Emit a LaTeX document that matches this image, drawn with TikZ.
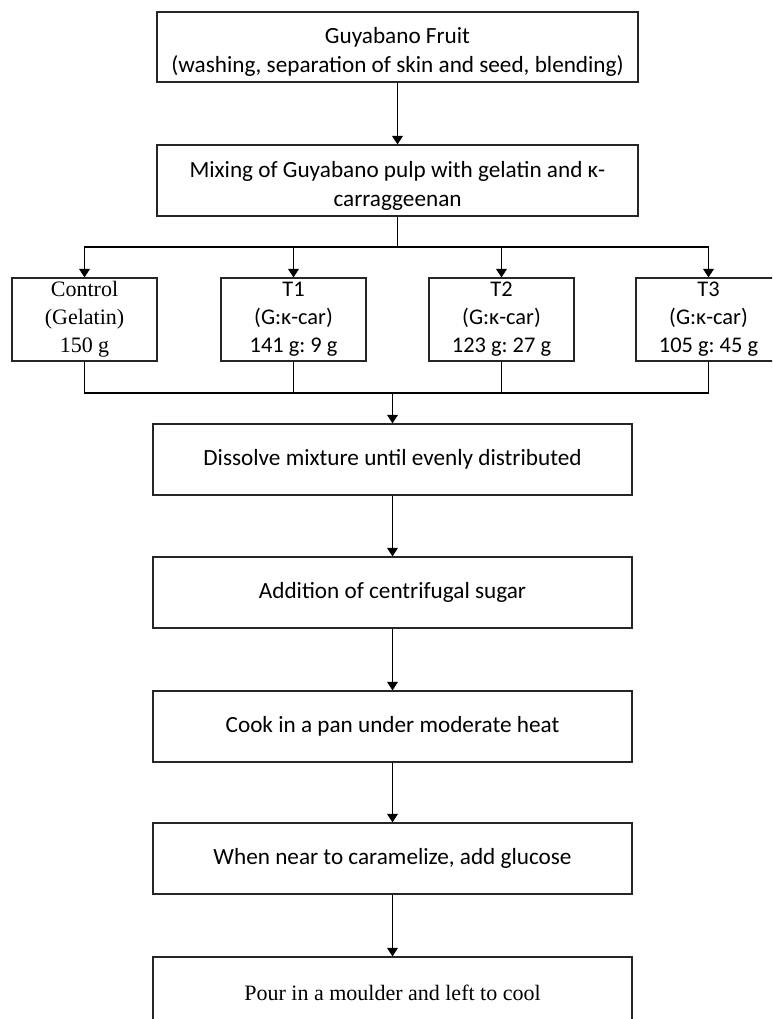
\documentclass[tikz,border=0pt]{standalone}
\usepackage{fontspec}
\setmainfont{Carlito}
\newfontfamily\serifcam{Liberation Serif}
\usetikzlibrary{arrows.meta}
\newcommand{\lowstrut}{\rule{0pt}{20pt}}
\tikzset{
  box/.style={draw=black!85, line width=0.8pt, inner sep=0pt, align=center, fill=white},
  wide/.style={box, minimum width=481*0.75pt, minimum height=70*0.75pt, font=\fontsize{17.4}{21.75}\selectfont},
  treat/.style={box, minimum width=145*0.75pt, minimum height=83*0.75pt, font=\fontsize{16.8}{21}\selectfont},
  lower/.style={box, minimum width=479*0.75pt, minimum height=71*0.75pt, font=\fontsize{17.4}{21.75}\selectfont},
  conn/.style={line width=1.3pt},
  arr/.style={conn, -{Triangle[width=8pt,length=6.5pt]}}
}
\begin{document}
\frenchspacing
\begin{tikzpicture}[x=0.75pt,y=-0.75pt]
\useasboundingbox (0,0) rectangle (772,1019);
\clip (0,0) rectangle (772,1019);
\fill[white] (0,0) rectangle (772,1019);
% nodes
\node[wide] (top) at (397.5,47) {\lowstrut Guyabano Fruit\\(washing, separation of skin and seed, blending)};
\node[wide, minimum height=71*0.75pt] (mix) at (397.5,180.5) {\lowstrut Mixing of Guyabano pulp with gelatin and κ-\\carraggeenan};
\node[treat, font=\serifcam\fontsize{16.5}{21}\selectfont] (ctrl) at (84.5,319.5) {Control\\(Gelatin)\\150 g};
\node[treat] (t1) at (293.5,319.5) {T1\\(G:κ-car)\\141 g: 9 g};
\node[treat] (t2) at (501.5,319.5) {T2\\(G:κ-car)\\123 g: 27 g};
\node[treat] (t3) at (708.5,319.5) {T3\\(G:κ-car)\\105 g: 45 g};
\node[lower] (dis) at (392.5,459.5) {Dissolve mixture until evenly distributed};
\node[lower] (add) at (392.5,592.5) {Addition of centrifugal sugar};
\node[lower] (cook) at (392.5,726.5) {Cook in a pan under moderate heat};
\node[lower] (when) at (392.5,858.5) {When near to caramelize, add glucose};
\node[lower, font=\serifcam\fontsize{16.5}{21}\selectfont] (pour) at (392.5,992.5) {Pour in a moulder and left to cool};
% coordinates
\coordinate (busT) at (397.5,247);
\coordinate (busB) at (392.5,393);
% connectors
\draw[arr] (top) -- (mix);
\draw[conn] (mix.south) -- (busT);
\draw[arr] (busT) -| (ctrl.north);
\draw[arr] (busT) -| (t1.north);
\draw[arr] (busT) -| (t2.north);
\draw[arr] (busT) -| (t3.north);
\draw[conn] (ctrl.south) |- (busB);
\draw[conn] (t1.south) |- (busB);
\draw[conn] (t2.south) |- (busB);
\draw[conn] (t3.south) |- (busB);
\draw[arr] (busB) -- (dis.north);
\draw[arr] (dis) -- (add);
\draw[arr] (add) -- (cook);
\draw[arr] (cook) -- (when);
\draw[arr] (when) -- (pour);
\end{tikzpicture}
\end{document}
